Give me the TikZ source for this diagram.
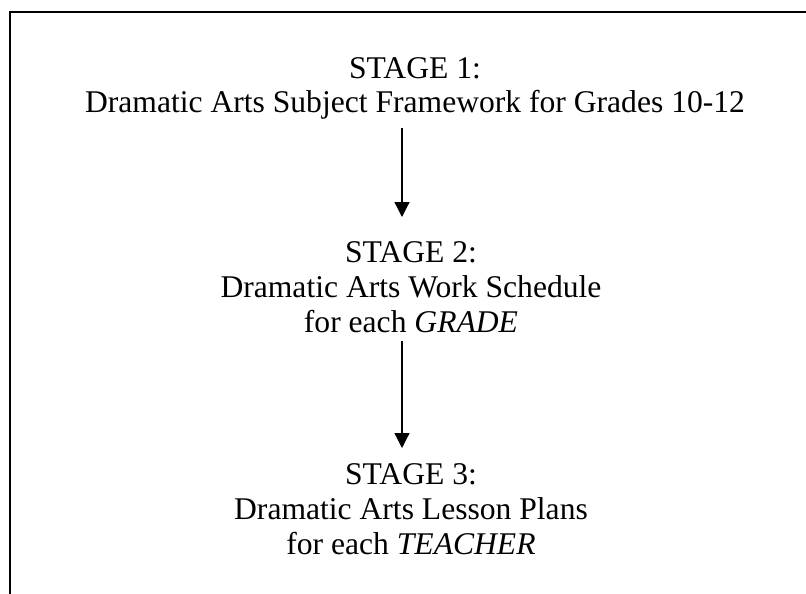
\documentclass[tikz,border=0pt]{standalone}
\usepackage{fontspec}
\setmainfont{Liberation Serif}
\usetikzlibrary{arrows.meta}
\begin{document}
\begin{tikzpicture}[x=1pt,y=-1pt,
  stagebox/.style={anchor=north,inner sep=0pt,align=center,font=\fontsize{31.6}{34.8}\selectfont},
  flow/.style={line width=1.2pt,-{Triangle[width=15pt,length=15pt]}},
  frame/.style={line width=1.8pt}]
\useasboundingbox (0,0) rectangle (806,594);
\draw[frame] (806,12) -- (10,12) -- (10,594);
\node[stagebox] (s1) at (415,57) {STAGE 1:\\Dramatic Arts Subject Framework for Grades 10-12};
\node[stagebox] (s2) at (411,241.6) {STAGE 2:\\Dramatic Arts Work Schedule\\for each \textit{GRADE}};
\node[stagebox] (s3) at (411,463.6) {STAGE 3:\\Dramatic Arts Lesson Plans\\for each \textit{TEACHER}};
\draw[flow,shorten <=8pt,shorten >=24.6pt] ([xshift=-13pt]s1.south) -- ([xshift=-9pt]s2.north);
\draw[flow,shorten <=8pt,shorten >=15.6pt] ([xshift=-9pt]s2.south) -- ([xshift=-9pt]s3.north);
\end{tikzpicture}
\end{document}
